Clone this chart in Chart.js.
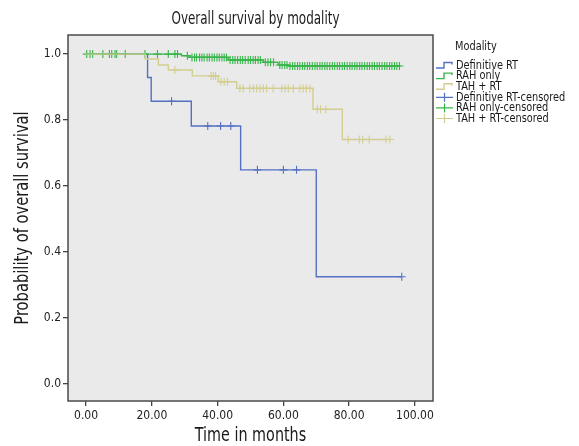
<!DOCTYPE html>
<html><head><meta charset="utf-8">
<script src="https://cdn.jsdelivr.net/npm/chart.js@4"></script>
<style>html,body{margin:0;padding:0;background:#fff}#wrap{width:579px;height:446px;position:relative}</style>
</head><body><div id="wrap"><canvas id="c" width="579" height="446"></canvas></div>
<script>
const FONT = "'DejaVu Sans Condensed','Liberation Sans Narrow',sans-serif";
const chartTitle = "Overall survival by modality";
const xAxisTitle = "Time in months";
const yAxisTitle = "Probability of overall survival";
const legendTitle = "Modality";
const seriesNames = ["Definitive RT", "RAH only", "TAH + RT"];
const censoredNames = ["Definitive RT-censored", "RAH only-censored", "TAH + RT-censored"];
const seriesColors = ["#5470C2", "#38B54A", "#D3CE90"];
const xTicks = [0, 20, 40, 60, 80, 100];
const yTicks = [0.0, 0.2, 0.4, 0.6, 0.8, 1.0];

// Kaplan-Meier step curves: time of each step and survival after it (last = end of follow-up)
const defRtTimes = [0, 18.7, 19.8, 32.0, 47.0, 70.0, 96.0];
const defRtSurv  = [1.0, 0.929, 0.857, 0.782, 0.649, 0.325, 0.325];
const rahTimes   = [0, 29.0, 31.6, 43.2, 53.9, 58.4, 61.5, 95.3];
const rahSurv    = [1.0, 0.995, 0.990, 0.982, 0.975, 0.967, 0.964, 0.964];
const tahTimes   = [0, 18.0, 22.0, 25.0, 32.3, 40.2, 45.8, 69.0, 77.9, 92.4];
const tahSurv    = [1.0, 0.985, 0.967, 0.952, 0.934, 0.916, 0.896, 0.833, 0.741, 0.741];

// Censoring times
const defRtCensored = [26.0, 37.0, 40.9, 44.0, 52.1, 60.0, 64.0, 96.0];
const rahCensored = [0.2, 1.2, 2.0, 5.1, 7.1, 7.8, 8.8, 9.3, 11.9, 17.9, 21.7, 25.0, 27.0, 27.8, 30.8,
  32.2, 33.0, 33.6, 34.5, 35.2, 35.9, 36.8, 37.5, 38.3, 39.0, 39.8, 40.5, 41.3, 42.0, 42.7,
  43.8, 44.6, 45.3, 46.1, 46.9, 47.6, 48.4, 49.3, 50.0, 50.8, 51.5, 52.3, 53.0,
  54.5, 55.3, 56.1, 57.0, 58.9, 59.6, 60.4, 61.1,
  62.0, 62.8, 63.5, 64.3, 65.0, 65.8, 66.5, 67.3, 68.0, 68.8, 69.6, 70.3, 71.1, 71.8, 72.6,
  73.3, 74.1, 74.9, 75.6, 76.4, 77.1, 77.9, 78.6, 79.4, 80.2, 80.9, 81.7, 82.4, 83.2, 83.9,
  84.7, 85.5, 86.2, 87.0, 87.7, 88.5, 89.2, 90.0, 90.8, 91.5, 92.3, 93.0, 93.8, 94.5, 95.3];
const tahCensored = [27.0, 38.0, 38.7, 39.4, 41.0, 42.0, 43.0,
  46.8, 47.8, 49.8, 50.9, 51.9, 52.9, 53.9, 54.9, 56.9, 59.5, 60.5, 61.5, 63.0,
  65.0, 66.0, 67.0, 68.1, 70.3, 71.3, 72.9, 79.7, 83.1, 84.1, 86.1, 91.2, 92.4];

function survAt(times, surv, t) {
  let s = surv[0];
  for (let i = 0; i < times.length; i++) if (times[i] <= t) s = surv[i];
  return s;
}
const curves = [[defRtTimes, defRtSurv, defRtCensored], [rahTimes, rahSurv, rahCensored], [tahTimes, tahSurv, tahCensored]];

const datasets = [];
curves.forEach((c, i) => {
  datasets.push({
    label: seriesNames[i], type: 'line', stepped: true, showLine: true,
    data: c[0].map((t, k) => ({x: t, y: c[1][k]})),
    borderColor: seriesColors[i], borderWidth: 1.4, pointRadius: 0, fill: false, order: 3 - i
  });
});
curves.forEach((c, i) => {
  datasets.push({
    label: censoredNames[i], type: 'scatter', showLine: false,
    data: c[2].map(t => ({x: t, y: survAt(c[0], c[1], t)})),
    borderColor: seriesColors[i], backgroundColor: seriesColors[i],
    pointStyle: 'cross', pointRadius: 4, borderWidth: 1.1, order: 3 - i
  });
});

function drawText(ctx, text, x, y, size, sx, align, rot) {
  ctx.save();
  ctx.translate(x, y);
  if (rot) ctx.rotate(rot);
  ctx.scale(sx, 1);
  ctx.font = size + 'px ' + FONT;
  ctx.textAlign = align; ctx.textBaseline = 'middle';
  ctx.fillText(text, 0, 0);
  ctx.restore();
}

const framePlugin = {
  id: 'frame',
  beforeDatasetsDraw(chart) {
    const {ctx, chartArea: a} = chart;
    ctx.save(); ctx.fillStyle = '#EAEAEA';
    ctx.fillRect(a.left, a.top, a.right - a.left, a.bottom - a.top);
    ctx.restore();
  },
  afterDraw(chart) {
    const {ctx, chartArea: a} = chart;
    ctx.save();
    ctx.strokeStyle = '#4a4a4a'; ctx.lineWidth = 1.5;
    ctx.strokeRect(a.left, a.top, a.right - a.left, a.bottom - a.top);
    ctx.fillStyle = '#1a1a1a';
    drawText(ctx, chartTitle, (a.left + a.right) / 2 + 5, 19, 17.5, 0.76, 'center');
    drawText(ctx, xAxisTitle, (a.left + a.right) / 2, 436, 19, 0.84, 'center');
    drawText(ctx, yAxisTitle, 23, (a.top + a.bottom) / 2, 19, 0.86, 'center', -Math.PI / 2);
    // legend
    const lx = 436, tx = 456;
    drawText(ctx, legendTitle, 455, 47, 12.5, 0.87, 'left');
    const rows = [65.5, 76.1, 86.7, 97.3, 107.9, 118.5];
    for (let i = 0; i < 3; i++) {
      const y = rows[i];
      ctx.strokeStyle = seriesColors[i]; ctx.lineWidth = 1.4;
      ctx.beginPath();
      ctx.moveTo(lx, y + 2.5); ctx.lineTo(lx + 8, y + 2.5); ctx.lineTo(lx + 8, y - 3);
      ctx.lineTo(lx + 16, y - 3); ctx.lineTo(lx + 16, y - 1);
      ctx.stroke();
      drawText(ctx, seriesNames[i], tx, y, 12.5, 0.87, 'left');
    }
    for (let i = 0; i < 3; i++) {
      const y = rows[i + 3];
      ctx.strokeStyle = seriesColors[i]; ctx.lineWidth = 1.2;
      ctx.beginPath();
      ctx.moveTo(lx, y); ctx.lineTo(lx + 17, y);
      ctx.moveTo(lx + 8.5, y - 4.5); ctx.lineTo(lx + 8.5, y + 4.5);
      ctx.stroke();
      drawText(ctx, censoredNames[i], tx, y, 12.5, 0.87, 'left');
    }
    ctx.restore();
  }
};

new Chart(document.getElementById('c'), {
  type: 'scatter',
  data: {datasets},
  options: {
    responsive: false, devicePixelRatio: 1, animation: false,
    layout: {padding: {top: 35, right: 146, left: 0, bottom: 0}},
    plugins: {legend: {display: false}, tooltip: {enabled: false}, title: {display: false}},
    scales: {
      x: {
        type: 'linear', min: -5.5, max: 105.5,
        afterFit(s) { s.height = 45; },
        afterBuildTicks(s) { s.ticks = xTicks.map(v => ({value: v})); },
        grid: {drawOnChartArea: false, drawTicks: true, tickLength: 5, color: '#444', lineWidth: 1.3},
        border: {display: false},
        ticks: {font: {family: FONT, size: 12}, color: '#222', padding: 3, maxRotation: 0,
          callback: v => Number(v).toFixed(2)},
        title: {display: false}
      },
      y: {
        type: 'linear', min: -0.052, max: 1.058,
        afterFit(s) { s.width = 68; },
        afterBuildTicks(s) { s.ticks = yTicks.map(v => ({value: v})); },
        grid: {drawOnChartArea: false, drawTicks: true, tickLength: 5, color: '#444', lineWidth: 1.3},
        border: {display: false},
        ticks: {font: {family: FONT, size: 12}, color: '#222', padding: 2,
          callback: v => Number(v).toFixed(1)},
        title: {display: false}
      }
    }
  },
  plugins: [framePlugin]
});
</script></body></html>
